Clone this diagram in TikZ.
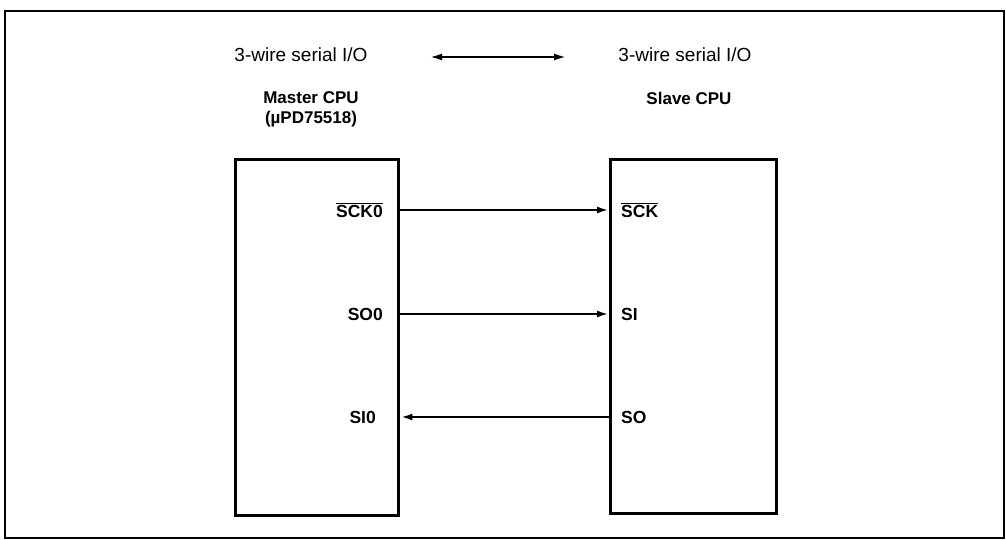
\documentclass[tikz,border=0pt]{standalone}
\usepackage{fontspec}
\setmainfont{Liberation Sans}
\usetikzlibrary{arrows.meta}
\newcommand\ovbar[1]{$\overline{\hbox{#1}}$}
\begin{document}
\begin{tikzpicture}[x=1pt,y=-1pt,
  frame/.style={line width=2pt},
  cpubox/.style={draw, line width=3.4pt, inner sep=0pt, anchor=north west},
  pin/.style={font=\bfseries\fontsize{17.5}{20}\selectfont, inner sep=0pt},
  head/.style={font=\fontsize{19}{22}\selectfont, inner sep=0pt},
  cpulbl/.style={font=\bfseries\fontsize{17}{20}\selectfont, inner sep=0pt, align=center},
  sig/.style={line width=2.4pt, -{Latex[length=12pt,width=7pt]}},
  both/.style={line width=2pt, {Latex[length=12pt,width=7pt]}-{Latex[length=12pt,width=7pt]}},
]
\useasboundingbox (0,0) rectangle (1006,540);
\draw[frame] (5,11) rectangle (1004,538);

% headings
\node[head] (hl) at (301,55) {3-wire serial I/O};
\node[head] (hr) at (685,55) {3-wire serial I/O};
\coordinate (al) at (430,57);
\coordinate (ar) at (566,57);
\draw[both] (al) -- (ar);

% CPU labels
\node[cpulbl] (mlbl) at (311,109) {Master CPU\\(µPD75518)};
\node[cpulbl] (slbl) at (689,98) {Slave CPU};

% boxes
\node[cpubox, minimum width=163pt, minimum height=356pt] (master) at (234,158) {};
\node[cpubox, minimum width=166pt, minimum height=354pt] (slave) at (609,158) {};

% pin labels master
\node[pin, anchor=east] (msck) at (383,210) {\ovbar{SCK0}};
\node[pin, anchor=east] (mso) at (383,314) {SO0};
\node[pin, anchor=east] (msi) at (376,417) {SI0};

% pin labels slave
\node[pin, anchor=west] (ssck) at (621,210) {\ovbar{SCK}};
\node[pin, anchor=west] (ssi) at (621,314) {SI};
\node[pin, anchor=west] (sso) at (621,417) {SO};

% signals
\draw[sig] (master.east |- msck) -- (slave.west |- ssck);
\draw[sig] (master.east |- mso) -- (slave.west |- ssi);
\draw[sig] (slave.west |- sso) -- (master.east |- msi);
\end{tikzpicture}
\end{document}
